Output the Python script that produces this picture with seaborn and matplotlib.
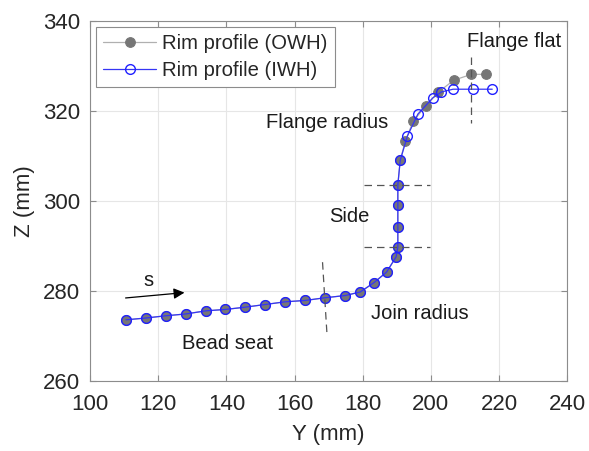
import numpy as np
import matplotlib
matplotlib.use("Agg")
import matplotlib.pyplot as plt
import pandas as pd
import seaborn as sns

# rim profile (Y, Z in mm)
owh_y = [110.5, 116.3, 122.2, 128.0, 134.0, 139.6, 145.4, 151.3, 157.2, 163.1,
         168.9, 174.9, 179.3, 183.2, 187.0, 189.8, 190.3, 190.3, 190.3, 190.3,
         191.0, 192.5, 194.8, 198.5, 202.1, 206.7, 211.9, 216.3]
owh_z = [273.6, 274.0, 274.5, 274.9, 275.6, 275.9, 276.4, 277.0, 277.6, 277.9,
         278.5, 279.0, 279.8, 281.8, 284.2, 287.6, 289.8, 294.2, 299.0, 303.6,
         309.0, 313.3, 317.7, 321.1, 324.1, 326.8, 328.1, 328.1]

iwh_y = owh_y[:21] + [193.1, 196.2, 200.6, 203.1, 206.5, 212.3, 218.0]
iwh_z = owh_z[:21] + [314.4, 319.3, 322.9, 324.2, 324.8, 324.8, 324.8]

region_labels = ["Flange flat", "Flange radius", "Side", "Join radius", "Bead seat"]
region_y = [224.3, 169.5, 176.2, 196.7, 140.2]
region_z = [335.4, 317.5, 296.6, 275.0, 268.3]

sns.set_style("whitegrid", {"axes.edgecolor": "#8c8c8c", "grid.color": "#e6e6e6",
                            "xtick.direction": "in", "ytick.direction": "in",
                            "xtick.bottom": True, "ytick.left": True,
                            "xtick.top": True, "ytick.right": True})
plt.rcParams['font.family'] = ['Liberation Sans', 'DejaVu Sans']

owh = pd.DataFrame({"Y": owh_y, "Z": owh_z})
iwh = pd.DataFrame({"Y": iwh_y, "Z": iwh_z})

fig = plt.figure(figsize=(5.89, 4.51), dpi=100)
ax = fig.add_axes([0.153, 0.155, 0.81, 0.799])

sns.lineplot(data=owh, x="Y", y="Z", sort=False, estimator=None, ax=ax,
             color="#b0b0b0", lw=0.9,
             marker="o", markersize=7, markerfacecolor="#767676",
             markeredgecolor="#767676", label="Rim profile (OWH)")
sns.lineplot(data=iwh, x="Y", y="Z", sort=False, estimator=None, ax=ax,
             color="#3535f5", lw=0.9,
             marker="o", markersize=7, markerfacecolor="none",
             markeredgecolor="#2020ff", markeredgewidth=1.0,
             label="Rim profile (IWH)")

# region separators
dash = dict(color="#555555", lw=0.9, ls=(0, (6, 4)))
ax.plot([168.2, 169.5], [286.4, 270.5], **dash)
ax.plot([180.3, 199.6], [303.6, 303.6], **dash)
ax.plot([180.3, 199.6], [289.7, 289.7], **dash)
ax.plot([211.9, 211.9], [332.0, 317.2], **dash)

for txt, x, y in zip(region_labels, region_y, region_z):
    ax.text(x, y, txt, ha="center", va="center", fontsize=14.5, color="#1a1a1a")

ax.annotate("", xy=(128.5, 279.7), xytext=(109.6, 278.4),
            arrowprops=dict(arrowstyle="-|>", color="black", lw=0.9,
                            mutation_scale=16))
ax.text(117.0, 282.4, "s", ha="center", va="center", fontsize=14.5, color="#1a1a1a")

ax.set_xlim(100, 240)
ax.set_ylim(260, 340)
ax.set_xticks(np.arange(100, 241, 20))
ax.set_yticks(np.arange(260, 341, 20))
ax.tick_params(labelsize=16, colors="#8c8c8c", labelcolor="#262626", length=4, width=0.8)
ax.tick_params(axis="x", pad=9)
ax.tick_params(axis="y", pad=7)
ax.set_xlabel("Y (mm)", fontsize=16, color="#262626", labelpad=7)
ax.set_ylabel("Z (mm)", fontsize=16, color="#262626", labelpad=6)
for s in ax.spines.values():
    s.set_linewidth(0.8)

leg = ax.legend(loc="upper left", fontsize=14.6, frameon=True, fancybox=False,
                edgecolor="#8c8c8c", framealpha=1, borderpad=0.35,
                handlelength=2.6, handletextpad=0.3, labelspacing=0.4,
                borderaxespad=0.3)
leg.get_frame().set_linewidth(0.8)

fig.savefig("out.png", dpi=100)
